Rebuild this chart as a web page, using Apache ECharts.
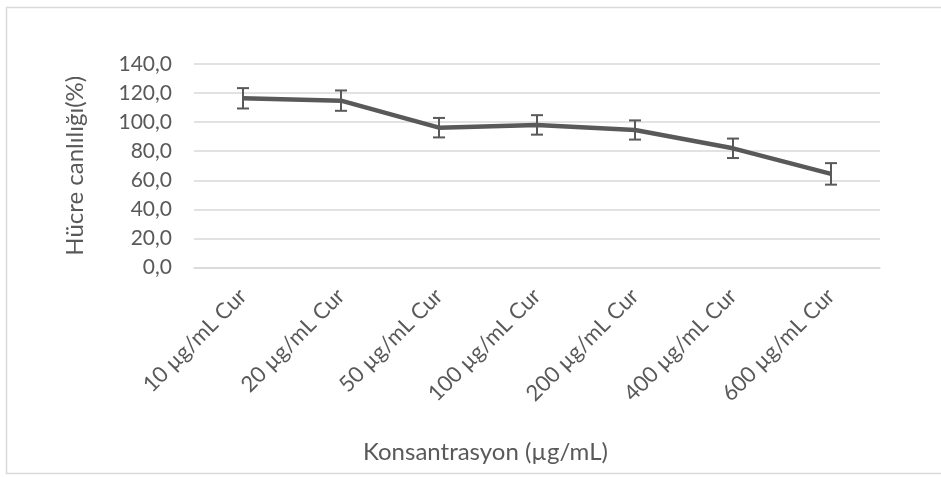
<!DOCTYPE html>
<html>
<head>
<meta charset="utf-8">
<script src="https://cdn.jsdelivr.net/npm/echarts@6/dist/echarts.min.js"></script>
<style>
html,body{margin:0;padding:0;background:#fff;}
#chart{width:941px;height:477px;}
</style>
</head>
<body>
<div id="chart"></div>
<script>
const categories = ['10 µg/mL Cur','20 µg/mL Cur','50 µg/mL Cur','100 µg/mL Cur','200 µg/mL Cur','400 µg/mL Cur','600 µg/mL Cur'];
const viability = [116.4, 114.8, 96.2, 98.1, 94.6, 82.0, 64.4];
const errors = [7.0, 7.0, 6.7, 6.7, 6.6, 6.7, 7.4];
const yTicks = {min: 0, max: 140, interval: 20};
const yTitle = 'Hücre canlılığı(%)';
const xTitle = 'Konsantrasyon (µg/mL)';

const FONT = 'Lato';
const TXT = '#595959';

const errData = categories.map((c, i) => [i, viability[i] - errors[i], viability[i] + errors[i]]);

const chart = echarts.init(document.getElementById('chart'));
chart.setOption({
  backgroundColor: '#fff',
  animation: false,
  textStyle: {fontFamily: FONT},
  graphic: [{
    type: 'rect',
    shape: {x: 6.5, y: 7.5, width: 940, height: 466},
    style: {fill: 'none', stroke: '#d9d9d9', lineWidth: 1.5},
    silent: true, z: -1
  }, {
    type: 'text',
    left: 363,
    top: 440,
    style: {text: xTitle, font: '24px ' + FONT, fill: TXT},
    silent: true
  }],
  grid: {left: 194, right: 61, top: 64, bottom: 209.5},
  xAxis: {
    type: 'category',
    data: categories,
    boundaryGap: true,
    axisLine: {show: true, lineStyle: {color: '#d9d9d9', width: 1.5}},
    axisTick: {show: false},
    axisLabel: {rotate: 45, color: TXT, fontSize: 22, fontFamily: FONT, margin: 25}
  },
  yAxis: {
    type: 'value',
    min: yTicks.min, max: yTicks.max, interval: yTicks.interval,
    name: yTitle,
    nameLocation: 'middle',
    nameGap: 107,
    nameRotate: 90,
    nameTextStyle: {color: TXT, fontSize: 24, fontFamily: FONT},
    axisLine: {show: false},
    axisTick: {show: false},
    splitLine: {lineStyle: {color: '#d9d9d9', width: 1.5}},
    axisLabel: {
      color: TXT, fontSize: 21, fontFamily: FONT, margin: 22,
      formatter: v => v.toFixed(1).replace('.', ',')
    }
  },
  series: [{
    type: 'line',
    data: viability,
    symbol: 'none',
    lineStyle: {color: '#595959', width: 4.5},
    z: 3
  }, {
    type: 'custom',
    data: errData,
    z: 4,
    renderItem: function (params, api) {
      const x = api.value(0);
      const lo = api.coord([x, api.value(1)]);
      const hi = api.coord([x, api.value(2)]);
      const hw = 6;
      const st = {stroke: '#595959', lineWidth: 2, fill: 'none'};
      return {
        type: 'group',
        children: [
          {type: 'line', shape: {x1: lo[0], y1: lo[1], x2: hi[0], y2: hi[1]}, style: st},
          {type: 'line', shape: {x1: lo[0] - hw, y1: lo[1], x2: lo[0] + hw, y2: lo[1]}, style: st},
          {type: 'line', shape: {x1: hi[0] - hw, y1: hi[1], x2: hi[0] + hw, y2: hi[1]}, style: st}
        ]
      };
    }
  }]
});
</script>
</body>
</html>
